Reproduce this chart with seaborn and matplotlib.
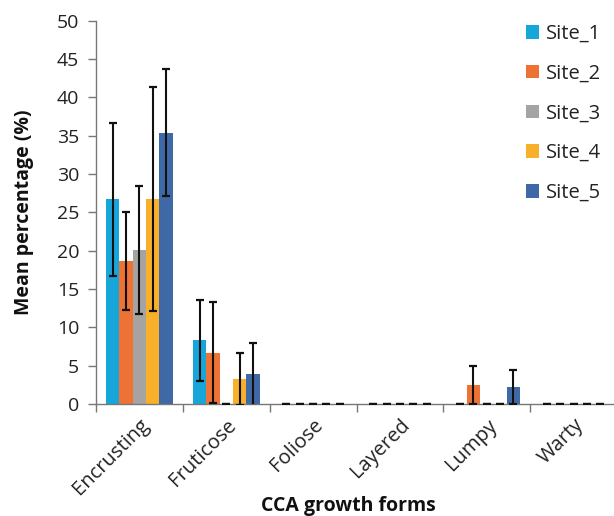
import numpy as np
import pandas as pd
import matplotlib
matplotlib.use("Agg")
import matplotlib.pyplot as plt
import seaborn as sns
from matplotlib.ticker import FixedLocator, MultipleLocator

categories = ["Encrusting", "Fruticose", "Foliose", "Layered", "Lumpy", "Warty"]
sites = ["Site_1", "Site_2", "Site_3", "Site_4", "Site_5"]
site_1 = [26.7, 8.3, 0, 0, 0, 0]
site_2 = [18.7, 6.7, 0, 0, 2.5, 0]
site_3 = [20.1, 0, 0, 0, 0, 0]
site_4 = [26.7, 3.3, 0, 0, 0, 0]
site_5 = [35.4, 3.9, 0, 0, 2.2, 0]
err_1 = [10.0, 5.3, 0, 0, 0, 0]
err_2 = [6.4, 6.6, 0, 0, 2.5, 0]
err_3 = [8.4, 0, 0, 0, 0, 0]
err_4 = [14.6, 3.4, 0, 0, 0, 0]
err_5 = [8.3, 4.1, 0, 0, 2.2, 0]
colors = ["#17A6DA", "#EE7233", "#A6A4A2", "#F8B02B", "#3F69A6"]

values = [site_1, site_2, site_3, site_4, site_5]
errors = [err_1, err_2, err_3, err_4, err_5]
rows = []
for s, vals in zip(sites, values):
    for c, v in zip(categories, vals):
        rows.append({"form": c, "site": s, "value": v})
df = pd.DataFrame(rows)

sns.set_theme(style="white")
plt.rcParams["font.family"] = ["Open Sans", "DejaVu Sans"]

fig = plt.figure(figsize=(6.14, 5.16), dpi=100)
ax = fig.add_axes([96/614, 112/516, 521/614, 383.3/516])

sns.barplot(data=df, x="form", y="value", hue="site", order=categories,
            hue_order=sites, palette=colors, width=0.77, ax=ax,
            errorbar=None, saturation=1, linewidth=0)

for cont, errs in zip(ax.containers, errors):
    xs = [b.get_x() + b.get_width() / 2 for b in cont]
    ys = [b.get_height() for b in cont]
    ax.errorbar(xs, ys, yerr=errs, fmt="none", ecolor="#111111",
                elinewidth=1.5, capsize=2.7, capthick=1.6, zorder=5)

ax.set_xlim(-0.5, 5.5)
ax.set_ylim(0, 50)
ax.yaxis.set_major_locator(MultipleLocator(5))
ax.set_xticks(range(len(categories)))
ax.set_xticklabels(categories, rotation=45, ha="right", rotation_mode="anchor",
                   fontsize=14.5, color="#222222")
ax.xaxis.set_minor_locator(FixedLocator(np.arange(-0.5, 6.0, 1.0)))
ax.tick_params(axis="x", which="major", length=0, pad=8)
ax.tick_params(axis="x", which="minor", length=6, width=1, color="#777777",
               bottom=True, direction="out")
ax.tick_params(axis="y", which="major", length=6, width=1, color="#777777",
               left=True, direction="out", labelsize=14, labelcolor="#222222", pad=6)
for sp in ["top", "right"]:
    ax.spines[sp].set_visible(False)
for sp in ["left", "bottom"]:
    ax.spines[sp].set_color("#777777")
    ax.spines[sp].set_linewidth(1)

ax.set_xlabel("CCA growth forms", fontsize=14, fontweight="bold", color="#111111")
ax.xaxis.set_label_coords((348 - 96) / 521, -(511 - 404) / 383.3)
ax.xaxis.label.set_va("baseline")
ax.set_ylabel("Mean percentage (%)", fontsize=14, fontweight="bold", color="#111111")
ax.yaxis.set_label_coords(-(96 - 24) / 521, 0.5)
ax.yaxis.label.set_va("center")

leg = ax.legend(loc="upper left", bbox_to_anchor=(526/614, 1 - 24/516),
                bbox_transform=fig.transFigure, frameon=False, fontsize=14.5,
                handlelength=0.65, handleheight=0.65, handletextpad=0.35,
                labelspacing=0.98, borderaxespad=0, borderpad=0)
for t in leg.get_texts():
    t.set_color("#222222")

fig.savefig("out.png", dpi=100)
